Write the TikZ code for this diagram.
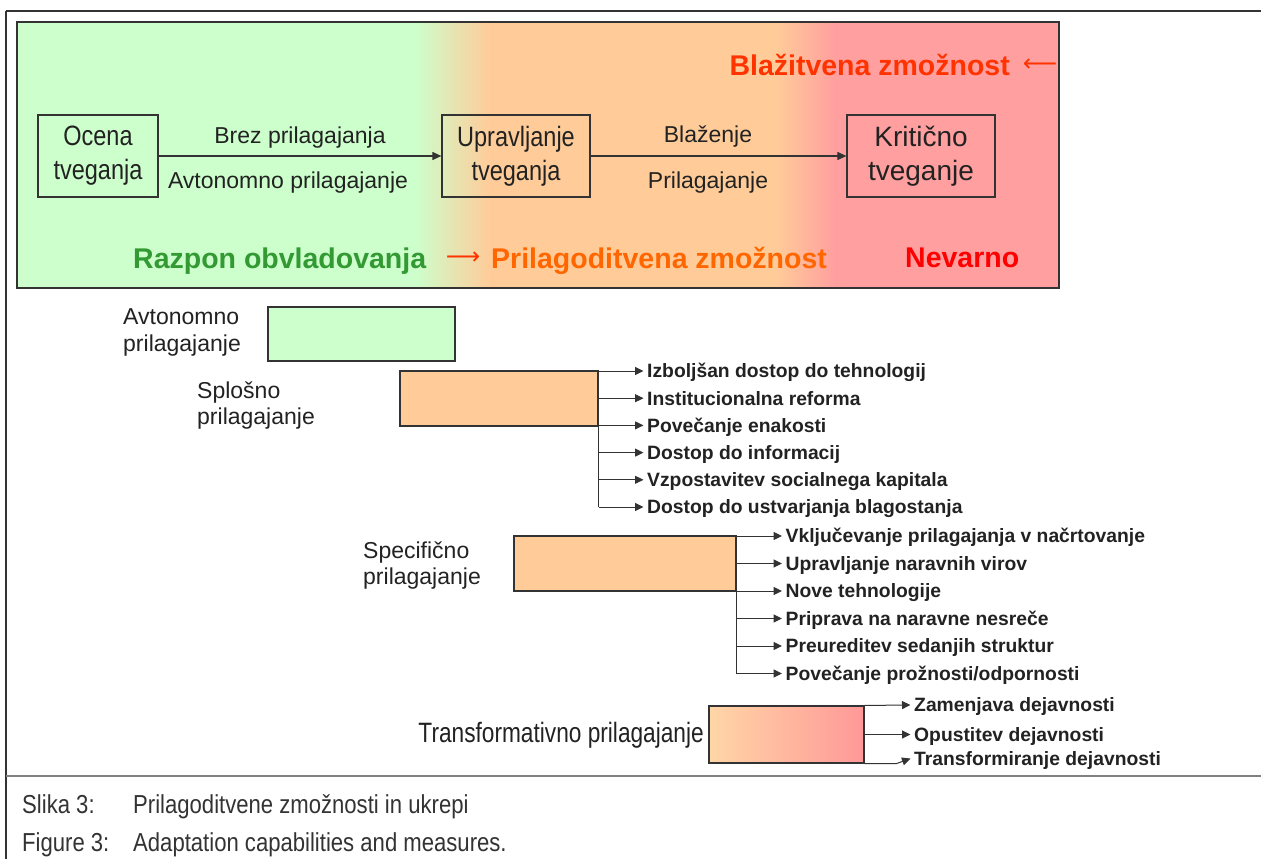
\documentclass[tikz,border=0pt]{standalone}
\usepackage{fontspec}
\setmainfont{Liberation Sans}
\newfontfamily\narrowfont[FakeStretch=0.84]{Liberation Sans}
\newfontfamily\transfont[FakeStretch=0.81]{Liberation Sans}
\newfontfamily\capfont[FakeStretch=0.85]{Liberation Sans}
\newfontfamily\arrowfont{DejaVu Sans}
\usetikzlibrary{arrows.meta}
\definecolor{cgreen}{HTML}{CCFFCC}
\definecolor{corange}{HTML}{FFCC99}
\definecolor{cred}{HTML}{FF9F9F}
\definecolor{tpeach}{HTML}{FFD6A6}
\definecolor{tpink}{HTML}{FF9898}
\definecolor{tgreen}{HTML}{339933}
\definecolor{torange}{HTML}{FF6600}
\definecolor{tredor}{HTML}{FF3300}
\definecolor{tred}{HTML}{FF0000}
\definecolor{ink}{HTML}{222222}
\definecolor{lin}{HTML}{333333}
\definecolor{capgray}{HTML}{333333}
\begin{document}
\begin{tikzpicture}[x=1pt,y=-1pt,
  tbox/.style={draw=lin, line width=1.2pt, minimum height=82pt, inner sep=0pt, align=center, text=ink},
  tarrow/.style={draw=lin, line width=1.1pt, -{Triangle[length=9pt,width=8pt]}},
  lbl/.style={anchor=base, inner sep=0pt, text=ink, font=\fontsize{23}{26}\selectfont},
  big/.style={anchor=base west, inner sep=0pt, font=\bfseries\fontsize{28.5}{32}\selectfont},
  arr/.style={anchor=center, inner sep=0pt, text=tredor, font=\arrowfont\fontsize{24}{24}\selectfont},
  bbox/.style={draw=lin, line width=1.1pt, inner sep=0pt},
  blabel/.style={anchor=north west, inner sep=0pt, align=left, text=ink, font=\fontsize{23}{26.5}\selectfont},
  item/.style={anchor=west, inner xsep=3.5pt, inner ysep=0pt, text height=13.8pt, text depth=0pt, text=ink, font=\bfseries\fontsize{19.3}{22}\selectfont},
  br/.style={draw=lin, line width=1pt, -{Triangle[length=8.5pt,width=8pt]}},
  trunk/.style={draw=lin, line width=1pt},
  captext/.style={anchor=base west, inner sep=0pt, text=capgray, font=\capfont\fontsize{26}{30}\selectfont}
]
\useasboundingbox (0,0) rectangle (1261,859);
\fill[white] (0,0) rectangle (1261,859);

% outer frame
\draw[lin, line width=1.4pt] (6,11) -- (1261,11);
\draw[lin, line width=1.1pt] (6,11) -- (6,859);
\draw[black!50, line width=2pt] (6,776) -- (1261,776);

% coloured panel
\fill[cgreen] (17,22) rectangle (415.5,288);
\shade[left color=cgreen, right color=corange] (415,22) rectangle (490,288);
\fill[corange] (489.5,22) rectangle (775.5,288);
\shade[left color=corange, right color=cred] (775,22) rectangle (835,288);
\fill[cred] (834.5,22) rectangle (1059,288);
\draw[lin, line width=1.3pt] (17,22) rectangle (1059,288);

% top boxes
\node[tbox, minimum width=120pt, font=\narrowfont\fontsize{28}{34}\selectfont] (oc) at (98,156) {Ocena\\tveganja};
\node[tbox, minimum width=148pt, font=\narrowfont\fontsize{28}{34}\selectfont] (up) at (516,156) {Upravljanje\\tveganja};
\node[tbox, minimum width=148pt, font=\fontsize{28}{34}\selectfont] (kr) at (921,156) {Kritično\\tveganje};
\draw[tarrow] (oc) -- (up);
\draw[tarrow] (up) -- (kr);

\node[lbl] (l1) at (300,143) {Brez prilagajanja};
\node[lbl] (l2) at (288,188) {Avtonomno prilagajanje};
\node[lbl] (l3) at (708,142) {Blaženje};
\node[lbl] (l4) at (708,188) {Prilagajanje};

% coloured labels
\node[big, anchor=base east, text=tredor] (bz) at (1010,75) {Blažitvena zmožnost};
\node[arr] (bzarr) at (1040,65) {⟵};
\node[big, text=tgreen] (ro) at (133,268) {Razpon obvladovanja};
\node[arr] (roarr) at (463,258) {⟶};
\node[big, text=torange] (pz) at (491,268) {Prilagoditvena zmožnost};
\node[big, text=tred] (nv) at (905,267) {Nevarno};

% autonomous
\node[blabel] (la) at (123,308.5) {Avtonomno\\prilagajanje};
\node[bbox, fill=cgreen, minimum width=187pt, minimum height=54pt] (ga) at (361.5,334) {};

% general
\node[blabel] (ls) at (197,381.5) {Splošno\\prilagajanje};
\node[bbox, fill=corange, minimum width=198pt, minimum height=55pt] (sb) at (499,398.5) {};
\node[item] (a1) at (643.5,371) {Izboljšan dostop do tehnologij};
\node[item] (a2) at (643.5,398.2) {Institucionalna reforma};
\node[item] (a3) at (643.5,425.4) {Povečanje enakosti};
\node[item] (a4) at (643.5,452.6) {Dostop do informacij};
\node[item] (a5) at (643.5,479.8) {Vzpostavitev socialnega kapitala};
\node[item] (a6) at (643.5,507) {Dostop do ustvarjanja blagostanja};
\draw[trunk] (sb.north east) -- (sb.north east |- a6.west);
\foreach \i in {1,...,6}{\draw[br] (sb.north east |- a\i.west) -- (a\i.west);}

% specific
\node[blabel] (lp) at (363,541.5) {Specifično\\prilagajanje};
\node[bbox, fill=corange, minimum width=222pt, minimum height=55pt] (sp) at (625,563.5) {};
\node[item] (b1) at (782,536) {Vključevanje prilagajanja v načrtovanje};
\node[item] (b2) at (782,563.5) {Upravljanje naravnih virov};
\node[item] (b3) at (782,591) {Nove tehnologije};
\node[item] (b4) at (782,618.5) {Priprava na naravne nesreče};
\node[item] (b5) at (782,646) {Preureditev sedanjih struktur};
\node[item] (b6) at (782,673.5) {Povečanje prožnosti/odpornosti};
\draw[trunk] (sp.north east) -- (sp.north east |- b6.west);
\foreach \i in {1,...,6}{\draw[br] (sp.north east |- b\i.west) -- (b\i.west);}

% transformative
\node[anchor=base east, inner sep=0pt, text=ink, font=\transfont\fontsize{28}{30}\selectfont] (lt) at (704,742) {Transformativno prilagajanje};
\node[bbox, left color=tpeach, right color=tpink, minimum width=155pt, minimum height=57pt] (tr) at (786.5,734.5) {};
\node[item] (c1) at (910.5,705) {Zamenjava dejavnosti};
\node[item] (c2) at (910.5,734.5) {Opustitev dejavnosti};
\node[item] (c3) at (910.5,758.5) {Transformiranje dejavnosti};
\draw[br] (tr.north east) -- (c1.west);
\draw[br] (tr.east) -- (c2.west);
\draw[br] (tr.south east) -- ++(32,0) -- (c3.west);

% caption
\node[captext] (s1) at (22,813) {Slika 3:};
\node[captext] (s2) at (133,813) {Prilagoditvene zmožnosti in ukrepi};
\node[captext] (f1) at (22,851) {Figure 3:};
\node[captext] (f2) at (133,851) {Adaptation capabilities and measures.};
\end{tikzpicture}
\end{document}
